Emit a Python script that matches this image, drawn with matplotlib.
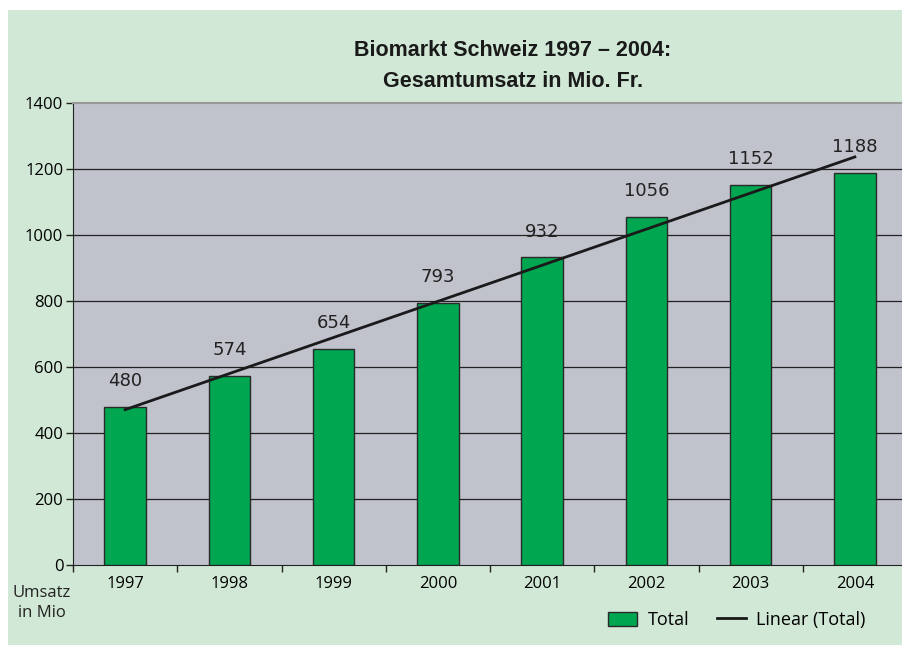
import numpy as np
import matplotlib
matplotlib.use("Agg")
import matplotlib.pyplot as plt
from matplotlib.patches import Rectangle, Patch
from matplotlib.lines import Line2D

years = ["1997", "1998", "1999", "2000", "2001", "2002", "2003", "2004"]
umsatz = [480, 574, 654, 793, 932, 1056, 1152, 1188]
y_ticks = [0, 200, 400, 600, 800, 1000, 1200, 1400]

BG = "#d0e8d5"
PLOT_BG = "#c0c2cc"
BAR = "#00a650"
TICK_FONT = ["Open Sans", "DejaVu Sans"]
TITLE_FONT = ["Liberation Sans", "DejaVu Sans"]

W, H = 903, 645
fig = plt.figure(figsize=(W / 100, H / 100), dpi=100)
fig.patch.set_facecolor("white")

# green panel behind everything
fig.patches.append(Rectangle((8 / W, 0), 1, 1 - 10 / H,
                             transform=fig.transFigure, facecolor=BG,
                             edgecolor="none", zorder=-10))

ax = fig.add_axes([73 / W, 80 / H, 834 / W, 462 / H])
ax.set_facecolor(PLOT_BG)

x = np.arange(len(years))
ax.bar(x, umsatz, width=0.4, color=BAR, edgecolor="#2a2a2a", linewidth=1.0, zorder=3)

# linear trend of the totals
k, d = np.polyfit(x + 1, umsatz, 1)
ax.plot(x, k * (x + 1) + d, color="#1a1a1a", linewidth=2.0, zorder=4)

for xi, v in zip(x, umsatz):
    ax.annotate(str(v), (xi, v), xytext=(0, 15), textcoords="offset points",
                ha="center", va="baseline", fontsize=13, color="#222222",
                family="DejaVu Sans")

ax.set_xlim(-0.5, len(years) - 0.5)
ax.set_ylim(0, 1400)
ax.set_yticks(y_ticks)
ax.set_yticklabels([str(t) for t in y_ticks], family=TICK_FONT, fontsize=12)
ax.tick_params(axis="y", direction="out", length=5, width=1, color="#222222", pad=2)

# boundary ticks between categories, labels at the centres
ax.set_xticks(np.arange(-0.5, len(years), 1.0))
ax.set_xticklabels([])
ax.tick_params(axis="x", which="major", direction="out", length=5, width=1, color="#222222")
ax.set_xticks(x, minor=True)
ax.set_xticklabels(years, minor=True, family=TICK_FONT, fontsize=12)
ax.tick_params(axis="x", which="minor", length=0, pad=8)

for t in y_ticks[1:-1]:
    ax.axhline(t, color="#222222", linewidth=0.9, zorder=1)

ax.spines["left"].set_color("#222222")
ax.spines["bottom"].set_color("#222222")
ax.spines["top"].set_color("#999999")
ax.spines["top"].set_linewidth(1.5)
ax.spines["right"].set_visible(False)

fig.text(513 / W, 1 - 66 / H, "Biomarkt Schweiz 1997 – 2004:\nGesamtumsatz in Mio. Fr.",
         ha="center", va="center", fontsize=15.5, fontweight="bold",
         family=TITLE_FONT, color="#1a1a1a", linespacing=1.6)

fig.text(42 / W, 1 - 603 / H, "Umsatz\nin Mio", ha="center", va="center",
         fontsize=12, family=TICK_FONT, color="#222222", linespacing=1.3)

handles = [Patch(facecolor=BAR, edgecolor="#2a2a2a", linewidth=1.0),
           Line2D([], [], color="#1a1a1a", linewidth=2.0)]
fig.legend(handles, ["Total", "Linear (Total)"], loc="center",
           bbox_to_anchor=(737 / W, 1 - 620 / H), ncol=2, frameon=False,
           prop={"family": TICK_FONT, "size": 13}, handlelength=1.6,
           handleheight=0.8, columnspacing=1.5, handletextpad=0.6)

fig.savefig("out.png", dpi=100)
